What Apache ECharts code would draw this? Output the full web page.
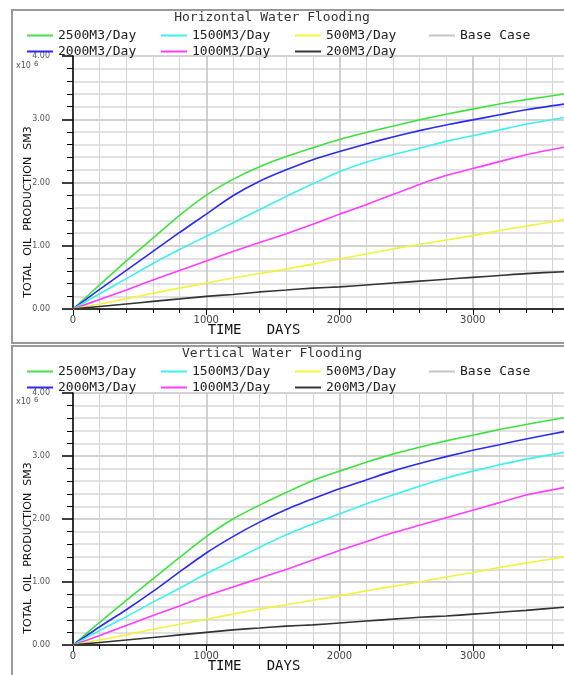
<!DOCTYPE html>
<html>
<head>
<meta charset="utf-8">
<script src="https://cdn.jsdelivr.net/npm/echarts@6/dist/echarts.min.js"></script>
<style>
  html, body { margin: 0; padding: 0; background: #fff; }
  #chart { width: 564px; height: 675px; }
</style>
</head>
<body>
<div id="chart"></div>
<script>
// time in days
var days = [0, 200, 400, 600, 800, 1000, 1200, 1400, 1600, 1800, 2000, 2200, 2400, 2600, 2800, 3000, 3200, 3400, 3690]

// horizontal water flooding, total oil production (x10^6 SM3)
var hRate2500 = [0, 0.38, 0.76, 1.12, 1.48, 1.80, 2.05, 2.25, 2.41, 2.55, 2.68, 2.79, 2.89, 2.99, 3.08, 3.16, 3.24, 3.31, 3.40]
var hRate2000 = [0, 0.31, 0.61, 0.91, 1.21, 1.50, 1.79, 2.02, 2.20, 2.36, 2.49, 2.61, 2.72, 2.82, 2.91, 2.99, 3.07, 3.15, 3.24]
var hRate1500 = [0, 0.24, 0.48, 0.72, 0.94, 1.15, 1.36, 1.57, 1.78, 1.98, 2.17, 2.32, 2.44, 2.54, 2.65, 2.74, 2.83, 2.92, 3.03]
var hRate1000 = [0, 0.15, 0.30, 0.46, 0.61, 0.76, 0.91, 1.05, 1.19, 1.34, 1.50, 1.65, 1.81, 1.97, 2.11, 2.22, 2.33, 2.44, 2.56]
var hRate500 = [0, 0.08, 0.16, 0.25, 0.33, 0.41, 0.49, 0.56, 0.63, 0.71, 0.79, 0.87, 0.95, 1.02, 1.09, 1.16, 1.24, 1.31, 1.41]
var hRate200 = [0, 0.04, 0.08, 0.12, 0.16, 0.20, 0.23, 0.27, 0.30, 0.33, 0.35, 0.38, 0.41, 0.44, 0.47, 0.50, 0.53, 0.56, 0.59]

// vertical water flooding
var vRate2500 = [0, 0.36, 0.71, 1.05, 1.39, 1.72, 2.00, 2.22, 2.42, 2.61, 2.76, 2.90, 3.03, 3.14, 3.24, 3.33, 3.42, 3.50, 3.61]
var vRate2000 = [0, 0.29, 0.56, 0.85, 1.16, 1.46, 1.72, 1.95, 2.15, 2.32, 2.48, 2.62, 2.76, 2.88, 2.99, 3.09, 3.18, 3.27, 3.39]
var vRate1500 = [0, 0.23, 0.45, 0.68, 0.90, 1.13, 1.34, 1.55, 1.75, 1.92, 2.08, 2.24, 2.38, 2.52, 2.65, 2.76, 2.86, 2.95, 3.06]
var vRate1000 = [0, 0.15, 0.31, 0.47, 0.62, 0.78, 0.92, 1.06, 1.20, 1.35, 1.50, 1.64, 1.78, 1.90, 2.02, 2.14, 2.26, 2.38, 2.50]
var vRate500 = [0, 0.08, 0.16, 0.25, 0.33, 0.41, 0.49, 0.57, 0.64, 0.71, 0.78, 0.86, 0.93, 1.00, 1.08, 1.15, 1.23, 1.30, 1.40]
var vRate200 = [0, 0.04, 0.08, 0.12, 0.16, 0.20, 0.24, 0.27, 0.30, 0.32, 0.35, 0.38, 0.41, 0.44, 0.46, 0.49, 0.52, 0.55, 0.60]

// base case is not drawn in the plot, only listed in the legend
var baseCase = []

var names = ['2500M3/Day', '2000M3/Day', '1500M3/Day', '1000M3/Day', '500M3/Day', '200M3/Day', 'Base Case']
var colors = ['#3ee23e', '#2b2bee', '#3cf0f0', '#ff3cff', '#f2f23a', '#333333', '#c4c4c4']
var legendRow1 = ['2500M3/Day', '1500M3/Day', '500M3/Day', 'Base Case']
var legendRow2 = ['2000M3/Day', '1000M3/Day', '200M3/Day']
var panelTitles = ['Horizontal Water Flooding', 'Vertical Water Flooding']
var yTicks = [0, 1, 2, 3, 4]

var panelData = [
  [hRate2500, hRate2000, hRate1500, hRate1000, hRate500, hRate200, baseCase],
  [vRate2500, vRate2000, vRate1500, vRate1000, vRate500, vRate200, baseCase]
]

var strokeFont = 'DejaVu Sans Mono'
var offsets = [0, 336]

var chart = echarts.init(document.getElementById('chart'))

function makeXAxis(idx) {
  return {
    gridIndex: idx,
    type: 'value',
    min: 0,
    max: 4000,
    interval: 1000,
    axisLine: { lineStyle: { color: '#000', width: 1.5 } },
    axisTick: { length: 6, lineStyle: { color: '#000' } },
    minorTick: { show: true, splitNumber: 5, length: 4, lineStyle: { color: '#000' } },
    axisLabel: {
      fontSize: 10, color: '#444', margin: 6, fontFamily: 'DejaVu Sans',
      formatter: function(v) { return String(v) }
    },
    splitLine: { show: true, lineStyle: { color: '#c0c0c0', width: 1.5 } },
    minorSplitLine: { show: true, lineStyle: { color: '#d4d4d4', width: 1 } }
  }
}

function makeYAxis(idx) {
  return {
    gridIndex: idx,
    type: 'value',
    min: yTicks[0],
    max: yTicks[yTicks.length - 1],
    interval: 1,
    axisLine: { show: true, lineStyle: { color: '#000', width: 1.5 } },
    axisTick: { show: true, length: 11, lineStyle: { color: '#000', width: 1.5 } },
    minorTick: { show: true, splitNumber: 5, length: 6, lineStyle: { color: '#000' } },
    axisLabel: {
      fontSize: 8, color: '#555', margin: 23, fontFamily: 'DejaVu Sans',
      formatter: function(v) { return v.toFixed(2) }
    },
    splitLine: { show: true, lineStyle: { color: '#c4c4c4', width: 1.5 } },
    minorSplitLine: { show: true, lineStyle: { color: '#d8d8d8', width: 1.5 } }
  }
}

var series = []
panelData.forEach(function(sets, p) {
  sets.forEach(function(vals, i) {
    series.push({
      name: names[i],
      type: 'line',
      xAxisIndex: p,
      yAxisIndex: p,
      symbol: 'none',
      smooth: 0.25,
      color: colors[i],
      lineStyle: { width: 1.6, color: colors[i] },
      data: vals.map(function(v, k) { return [days[k], v] })
    })
  })
})

var legends = []
offsets.forEach(function(off) {
  [legendRow1, legendRow2].forEach(function(row, r) {
    row.forEach(function(name, i) {
      legends.push({
        data: [name],
        left: 27 + i * 134,
        top: 29 + r * 16 + off,
        padding: 0,
        icon: 'rect',
        itemWidth: 26,
        itemHeight: 2,
        selectedMode: false,
        textStyle: { fontFamily: strokeFont, fontSize: 13, color: '#222' }
      })
    })
  })
})

var graphics = []
offsets.forEach(function(off, p) {
  graphics.push({
    type: 'rect',
    shape: { x: 12, y: p === 0 ? 10 : 346, width: 600, height: p === 0 ? 333 : 400 },
    style: { fill: 'none', stroke: '#9a9a9a', lineWidth: 2 },
    silent: true
  })
  graphics.push({
    type: 'text',
    x: 272, y: 18 + off,
    style: {
      text: panelTitles[p], x: 0, y: 0,
      font: '13px "' + strokeFont + '"', fill: '#333',
      textAlign: 'center', textVerticalAlign: 'middle', align: 'center', verticalAlign: 'middle'
    }
  })
  graphics.push({
    type: 'text',
    x: 28, y: 212 + off, rotation: Math.PI / 2,
    style: {
      text: 'TOTAL  OIL  PRODUCTION  SM3', x: 0, y: 0,
      font: '11px "DejaVu Sans"', fill: '#111',
      textAlign: 'center', textVerticalAlign: 'middle', align: 'center', verticalAlign: 'middle'
    }
  })
  graphics.push({
    type: 'text',
    x: 254, y: 330 + off,
    style: {
      text: 'TIME   DAYS', x: 0, y: 0,
      font: '14px "' + strokeFont + '"', fill: '#111',
      textAlign: 'center', textVerticalAlign: 'middle', align: 'center', verticalAlign: 'middle'
    }
  })
  graphics.push({
    type: 'text',
    x: 16, y: 66 + off,
    style: { text: 'x10', x: 0, y: 0, font: '8px "DejaVu Sans"', fill: '#555', textVerticalAlign: 'middle', verticalAlign: 'middle' }
  })
  graphics.push({
    type: 'text',
    x: 34, y: 64 + off,
    style: { text: '6', x: 0, y: 0, font: '7px "DejaVu Sans"', fill: '#555', textVerticalAlign: 'middle', verticalAlign: 'middle' }
  })
})

var option = {
  backgroundColor: '#fff',
  animation: false,
  legend: legends,
  grid: [
    { left: 73, top: 56, width: 533, height: 253, outerBoundsMode: 'none' },
    { left: 73, top: 393, width: 533, height: 252, outerBoundsMode: 'none' }
  ],
  xAxis: [makeXAxis(0), makeXAxis(1)],
  yAxis: [makeYAxis(0), makeYAxis(1)],
  graphic: graphics,
  series: series
}

chart.setOption(option)
</script>
</body>
</html>
